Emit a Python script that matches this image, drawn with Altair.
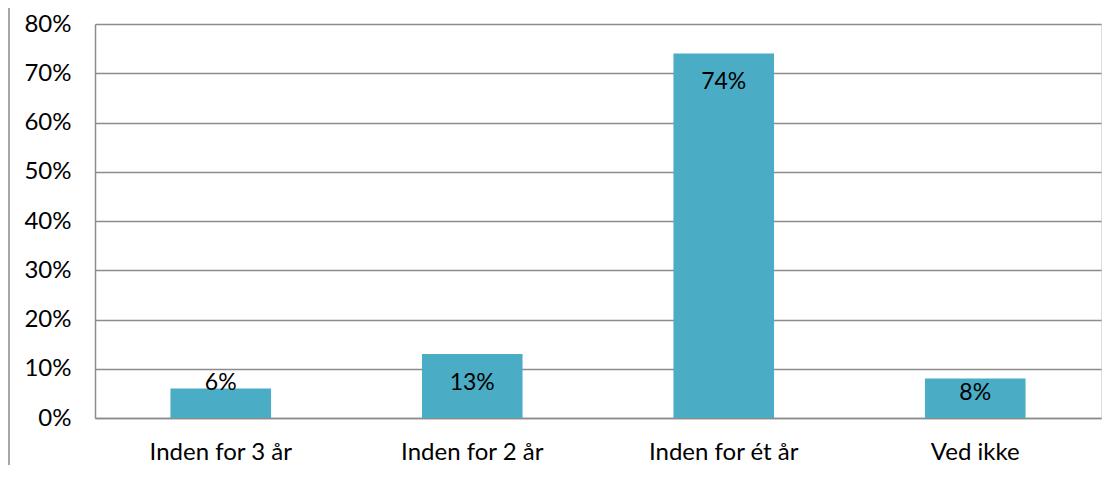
import altair as alt
import pandas as pd

categories = ["Inden for 3 år", "Inden for 2 år", "Inden for ét år", "Ved ikke"]
values = [0.06, 0.13, 0.74, 0.08]
labels = ["6%", "13%", "74%", "8%"]

df = pd.DataFrame({"cat": categories, "v": values, "lab": labels})

FONT = "Lato"
FS = 24
GRID = "#8c8c8c"

base = alt.Chart(df)

x = alt.X("cat:N", sort=categories, title=None,
          scale=alt.Scale(paddingInner=0.6, paddingOuter=0.3),
          axis=alt.Axis(labelAngle=0, labelFont=FONT, labelFontSize=FS, labelColor="#000",
                        labelPadding=34, labelBaseline="middle", ticks=False,
                        domainColor=GRID, domainWidth=1.5))

bars = base.mark_bar(color="#4BACC6").encode(
    x=x,
    y=alt.Y("v:Q", title=None,
            scale=alt.Scale(domain=[0, 0.8], nice=False),
            axis=alt.Axis(format=".0%", values=[0, 0.1, 0.2, 0.3, 0.4, 0.5, 0.6, 0.7, 0.8],
                          labelFont=FONT, labelFontSize=FS, labelColor="#000",
                          labelPadding=24, ticks=False, domainColor=GRID, domainWidth=1.5,
                          gridColor=GRID, gridWidth=1.5)),
)

text = base.transform_calculate(
    ly="datum.v > 0.1 ? datum.v - 0.058 : (datum.v > 0.07 ? datum.v - 0.029 : datum.v + 0.011)"
).mark_text(font=FONT, fontSize=FS - 1, color="#000", baseline="middle").encode(
    x=alt.X("cat:N", sort=categories),
    y=alt.Y("ly:Q"),
    text="lab:N",
)

border = base.mark_rule(color="#a6a6a6", strokeWidth=2).encode(
    x=alt.value(-86), y=alt.value(-24), y2=alt.value(441)
)

chart = alt.layer(bars, text, border).properties(
    width=1006, height=394,
    autosize=alt.AutoSizeParams(type="none"),
    padding={"left": 87, "top": 16, "right": 5, "bottom": 60},
).configure_view(stroke=None).configure(background="white")

chart.save("out.html", embed_options={"renderer": "svg", "actions": False})
